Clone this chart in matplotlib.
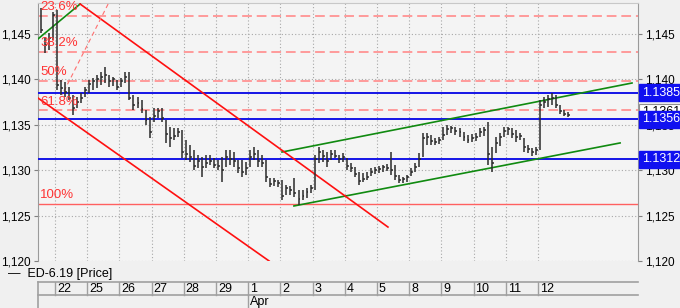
import numpy as np
import matplotlib
matplotlib.use("Agg")
import matplotlib.pyplot as plt
from matplotlib.ticker import FuncFormatter, MultipleLocator

plt.rcParams['font.family'] = ['Liberation Sans', 'DejaVu Sans']

# trading days on the x axis (Mar 21 is only partly visible)
day_labels = ['22', '25', '26', '27', '28', '29', '1', '2', '3', '4', '5', '8', '9', '10', '11', '12']
month_labels = ['Apr']
month_start = [6]

# 2-hour bars: Mar 21 (last 4 bars) then 8 bars per trading day
highs = [1.1479, 1.1447, 1.1451, 1.1474,
         1.1476, 1.1399, 1.1397, 1.1392, 1.1383, 1.1381, 1.1385, 1.1392,
         1.1399, 1.1402, 1.1405, 1.1408, 1.1414, 1.1405, 1.1403, 1.1399,
         1.1402, 1.1408, 1.1408, 1.1383, 1.1381, 1.1377, 1.1366, 1.1359,
         1.1369, 1.1369, 1.1369, 1.1355, 1.1348, 1.1346, 1.1346, 1.1344,
         1.1333, 1.1328, 1.1322, 1.1317, 1.1315, 1.1317, 1.1317, 1.1313,
         1.1311, 1.1315, 1.1322, 1.1322, 1.1320, 1.1311, 1.1311, 1.1309,
         1.1322, 1.1326, 1.1322, 1.1317, 1.1311, 1.1291, 1.1291, 1.1289,
         1.1289, 1.1284, 1.1283, 1.1291, 1.1278, 1.1278, 1.1280, 1.1284,
         1.1317, 1.1326, 1.1322, 1.1320, 1.1322, 1.1322, 1.1317, 1.1319,
         1.1313, 1.1308, 1.1304, 1.1298, 1.1297, 1.1298, 1.1302, 1.1304,
         1.1305, 1.1306, 1.1307, 1.1320, 1.1306, 1.1295, 1.1293, 1.1295,
         1.1302, 1.1308, 1.1319, 1.1341, 1.1341, 1.1339, 1.1335, 1.1337,
         1.1348, 1.1350, 1.1349, 1.1348, 1.1346, 1.1342, 1.1339, 1.1340,
         1.1341, 1.1346, 1.1348, 1.1353, 1.1326, 1.1337, 1.1341, 1.1348,
         1.1348, 1.1346, 1.1344, 1.1341, 1.1335, 1.1328, 1.1324, 1.1326,
         1.1377, 1.1381, 1.1383, 1.1385, 1.1383, 1.1372, 1.1366, 1.1364]
lows = [1.1451, 1.1429, 1.1432, 1.1443,
        1.1388, 1.1383, 1.1381, 1.1377, 1.1361, 1.1369, 1.1374, 1.1381,
        1.1385, 1.1388, 1.1391, 1.1394, 1.1396, 1.1392, 1.1393, 1.1388,
        1.1392, 1.1396, 1.1377, 1.1366, 1.1369, 1.1363, 1.1350, 1.1335,
        1.1353, 1.1357, 1.1353, 1.1330, 1.1326, 1.1333, 1.1337, 1.1313,
        1.1311, 1.1309, 1.1300, 1.1302, 1.1293, 1.1302, 1.1306, 1.1302,
        1.1300, 1.1287, 1.1304, 1.1306, 1.1304, 1.1297, 1.1293, 1.1295,
        1.1304, 1.1311, 1.1304, 1.1304, 1.1287, 1.1281, 1.1283, 1.1281,
        1.1267, 1.1273, 1.1273, 1.1270, 1.1262, 1.1267, 1.1269, 1.1275,
        1.1278, 1.1308, 1.1309, 1.1304, 1.1311, 1.1313, 1.1308, 1.1309,
        1.1300, 1.1298, 1.1293, 1.1284, 1.1287, 1.1289, 1.1294, 1.1296,
        1.1297, 1.1298, 1.1299, 1.1295, 1.1289, 1.1286, 1.1286, 1.1287,
        1.1294, 1.1298, 1.1304, 1.1315, 1.1328, 1.1328, 1.1328, 1.1329,
        1.1333, 1.1339, 1.1341, 1.1339, 1.1337, 1.1332, 1.1330, 1.1331,
        1.1332, 1.1337, 1.1338, 1.1306, 1.1298, 1.1319, 1.1327, 1.1337,
        1.1339, 1.1335, 1.1331, 1.1333, 1.1320, 1.1319, 1.1316, 1.1317,
        1.1322, 1.1369, 1.1370, 1.1372, 1.1369, 1.1362, 1.1360, 1.1359]
closes = [1.1454, 1.1438, 1.1446, 1.1471,
          1.1394, 1.1390, 1.1386, 1.1380, 1.1368, 1.1375, 1.1380, 1.1388,
          1.1395, 1.1398, 1.1400, 1.1403, 1.1405, 1.1398, 1.1400, 1.1392,
          1.1398, 1.1403, 1.1380, 1.1372, 1.1374, 1.1367, 1.1355, 1.1342,
          1.1360, 1.1365, 1.1358, 1.1340, 1.1335, 1.1338, 1.1342, 1.1320,
          1.1318, 1.1315, 1.1305, 1.1310, 1.1303, 1.1308, 1.1310, 1.1306,
          1.1305, 1.1300, 1.1315, 1.1312, 1.1310, 1.1302, 1.1298, 1.1302,
          1.1315, 1.1318, 1.1310, 1.1308, 1.1292, 1.1285, 1.1288, 1.1286,
          1.1272, 1.1280, 1.1278, 1.1275, 1.1268, 1.1272, 1.1276, 1.1280,
          1.1312, 1.1320, 1.1316, 1.1310, 1.1318, 1.1316, 1.1312, 1.1314,
          1.1305, 1.1302, 1.1296, 1.1288, 1.1290, 1.1292, 1.1298, 1.1300,
          1.1301, 1.1303, 1.1302, 1.1300, 1.1294, 1.1289, 1.1290, 1.1292,
          1.1298, 1.1304, 1.1312, 1.1335, 1.1336, 1.1332, 1.1331, 1.1333,
          1.1339, 1.1345, 1.1346, 1.1343, 1.1342, 1.1336, 1.1333, 1.1335,
          1.1337, 1.1342, 1.1344, 1.1318, 1.1308, 1.1330, 1.1336, 1.1343,
          1.1345, 1.1340, 1.1336, 1.1338, 1.1326, 1.1323, 1.1320, 1.1322,
          1.1372, 1.1375, 1.1378, 1.1380, 1.1372, 1.1365, 1.1362, 1.1361]

# Fibonacci retracement levels
fib_labels = ['23.6%', '38.2%', '50%', '61.8%', '100%']
fib_levels = [1.1470, 1.1430, 1.1398, 1.1366, 1.1263]

# horizontal support / resistance levels
levels = [1.1385, 1.1356, 1.1312]
last_price = 1.1361

# trend lines as (day position, price) end points
green_short = [(-0.53, 1.14445), (0.78, 1.1483)]
red_upper = [(0.78, 1.1483), (10.34, 1.12374)]
red_lower = [(-0.53, 1.13795), (6.65, 1.1200)]
fib_diag = [(1.65, 1.1483), (0.22, 1.13828)]
green_top = [(7.05, 1.13200), (17.92, 1.13960)]
green_bottom = [(7.42, 1.12606), (17.55, 1.13300)]

bars_per_day = 8
n_first = 4  # bars of Mar 21 inside the window
pos = []
for i in range(len(closes)):
    if i < n_first:
        pos.append(-1 + (bars_per_day - n_first + i + 0.5) / bars_per_day)
    else:
        k = i - n_first
        pos.append(k // bars_per_day + (k % bars_per_day + 0.5) / bars_per_day)
pos = np.array(pos)

W, H = 680, 308
fig = plt.figure(figsize=(W / 100, H / 100), dpi=100, facecolor='#f0f0f0')
ax = fig.add_axes([38 / W, (H - 261) / H, 600 / W, 258 / H])
ax.set_facecolor('#f4f4f4')
ax.set_xlim(-0.528, 18.106)
ax.set_ylim(1.120, 1.14841)

# grid
grid_kw = dict(color='#a8a8a8', lw=0.8, ls=(0, (1, 2)), zorder=1)
for d in range(len(day_labels)):
    ax.axvline(d, **grid_kw)
for y in np.arange(1.120, 1.1451, 0.005):
    ax.axhline(y, **grid_kw)

# fibonacci
for lab, lv in zip(fib_labels, fib_levels):
    if lab == '100%':
        ax.axhline(lv, color='#ff6060', lw=1.0, zorder=2)
    else:
        ax.axhline(lv, color='#ff9a9a', lw=1.4, ls=(0, (5, 2.5)), zorder=2)
    ax.text(-0.46, lv + 0.0003, lab, color='#ff3434', fontsize=9.5, va='bottom', ha='left', zorder=6)

# support / resistance
for lv in levels:
    ax.axhline(lv, color='#1414e6', lw=1.4, zorder=3)

# trend lines
for seg, col in [(green_short, '#108a10'), (green_top, '#108a10'), (green_bottom, '#108a10'),
                 (red_upper, '#ff1010'), (red_lower, '#ff1010')]:
    ax.plot([seg[0][0], seg[1][0]], [seg[0][1], seg[1][1]], color=col, lw=1.2, zorder=4)
ax.plot([fib_diag[0][0], fib_diag[1][0]], [fib_diag[0][1], fib_diag[1][1]],
        color='#ff7070', lw=0.8, ls=(0, (4, 3)), zorder=4)

# price bars
ax.vlines(pos, lows, highs, color='#2a2a2a', lw=1.1, zorder=5)
ax.hlines(closes, pos, pos + 0.06, color='#2a2a2a', lw=1.1, zorder=5)

# axes styling
for s in ['left', 'right']:
    ax.spines[s].set_color('#9a9a9a')
ax.spines['top'].set_color('#c8c8c8')
ax.spines['bottom'].set_visible(False)
ax.set_xticks([])
ax.yaxis.set_major_locator(MultipleLocator(0.005))
ax.yaxis.set_major_formatter(FuncFormatter(lambda v, p: f'{v:.3f}'.replace('.', ',')))
ax.tick_params(axis='y', left=True, right=True, labelleft=True, labelright=True,
               length=3, color='#808080', labelsize=8.5, pad=2)

# price boxes on the right (last price sits behind the 1.1356 box)
ax.annotate(f'{last_price:.4f}', xy=(1.006, last_price + 0.0003), xycoords=('axes fraction', 'data'),
            ha='left', va='center', fontsize=9, color='black', annotation_clip=False, zorder=7,
            bbox=dict(boxstyle='square,pad=0.2', fc='white', ec='#909090', lw=0.8))
for lv in levels:
    ax.annotate(f'{lv:.4f}', xy=(1.006, lv), xycoords=('axes fraction', 'data'),
                ha='left', va='center', fontsize=9, color='white', annotation_clip=False, zorder=8,
                bbox=dict(boxstyle='square,pad=0.2', fc='#1010f0', ec='#1010f0'))

# legend line
fig.text(8 / W, 1 - 274 / H, '—  ED-6.19 [Price]', fontsize=9, va='center', ha='left')

# date band
bx = fig.add_axes([38 / W, 0, 600 / W, 26 / H])
bx.set_xlim(ax.get_xlim())
bx.set_ylim(0, 2)
bx.axis('off')
band = '#a0a0a0'
bx.plot([-0.528, 18.106], [2, 2], color=band, lw=1.2, clip_on=False)
bx.plot([-0.528, 18.106], [1, 1], color=band, lw=1.2, clip_on=False)
bx.plot([-0.528, -0.528], [0, 2], color=band, lw=1.2, clip_on=False)
for d, lab in enumerate(day_labels):
    bx.plot([d, d], [1, 2], color=band, lw=1.0)
    bx.text(d + 0.06, 1.45, lab, fontsize=9, va='center', ha='left')
for m, lab in zip(month_start, month_labels):
    bx.plot([m, m], [0, 1], color=band, lw=1.0)
    bx.text(m + 0.06, 0.45, lab, fontsize=9, va='center', ha='left')

fig.savefig('out.png', dpi=100, facecolor=fig.get_facecolor())
